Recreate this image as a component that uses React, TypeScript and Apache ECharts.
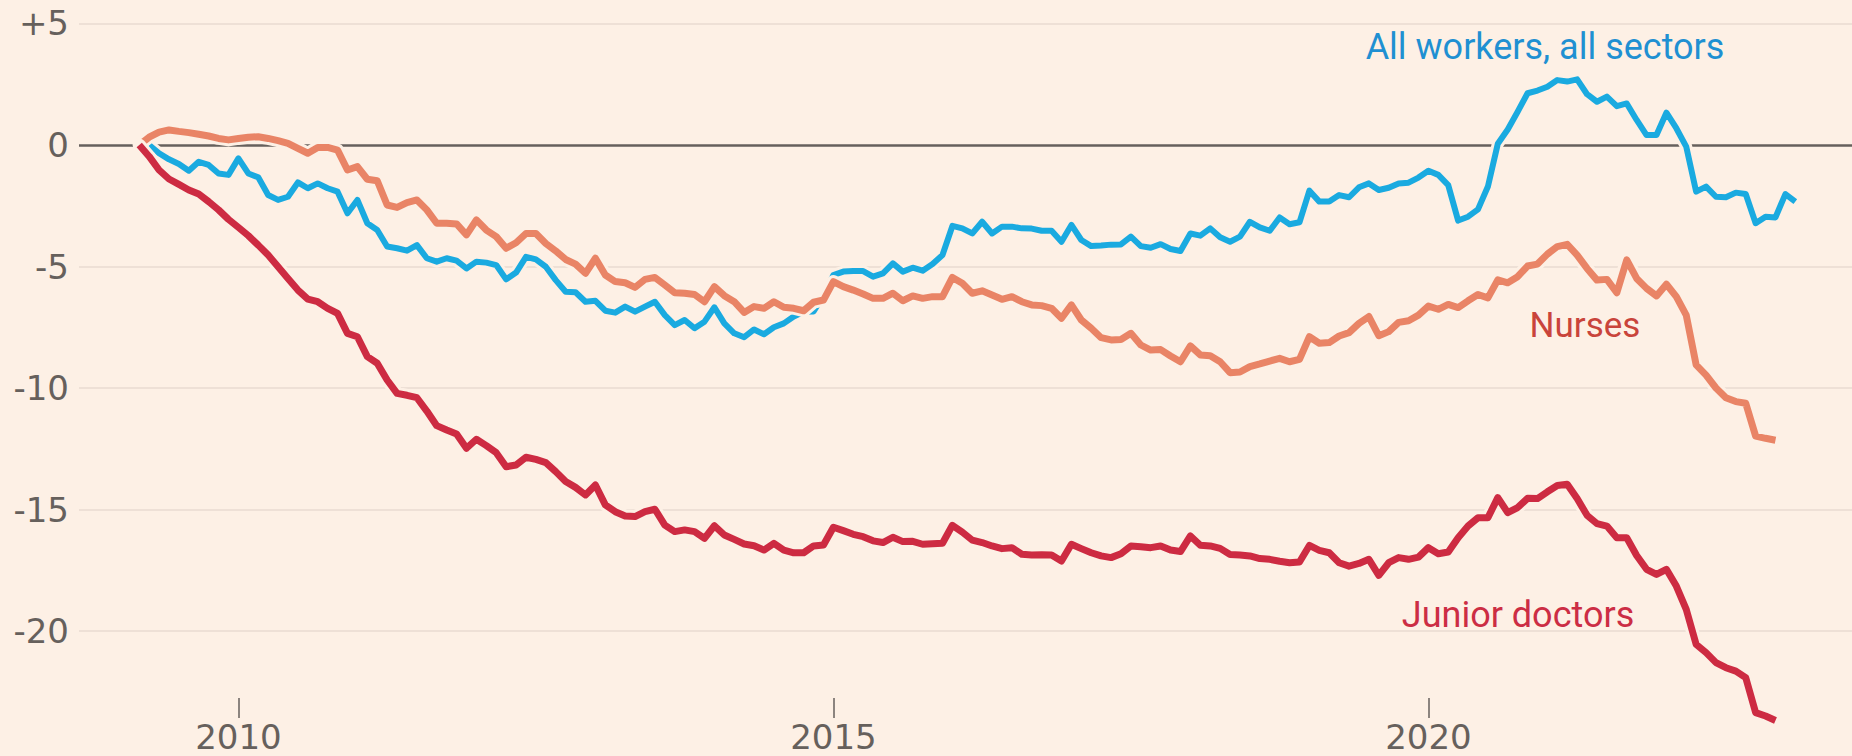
import React, { useEffect, useRef } from "react";
import * as echarts from "echarts";

// Monthly series, % change in real pay since the start of the series
const START_YEAR = 2009;
const DOCTORS_START_MONTH = 2; // March 2009 (0-based month)
const NURSES_START_MONTH = 2; // March 2009
const WORKERS_START_MONTH = 3; // April 2009

const juniorDoctors = [
  0, -0.47, -1.03, -1.4, -1.62, -1.85, -2.02, -2.33, -2.67, -3.06,
  -3.39, -3.73, -4.12, -4.53, -5.01, -5.49, -5.97, -6.34, -6.45, -6.72,
  -6.93, -7.75, -7.89, -8.71, -8.98, -9.67, -10.22, -10.3, -10.4, -10.95,
  -11.55, -11.73, -11.89, -12.48, -12.11, -12.37, -12.66, -13.24, -13.17, -12.85,
  -12.94, -13.07, -13.44, -13.85, -14.09, -14.4, -13.99, -14.81, -15.09, -15.27,
  -15.29, -15.09, -14.99, -15.64, -15.91, -15.84, -15.91, -16.19, -15.67, -16.05,
  -16.23, -16.42, -16.49, -16.67, -16.39, -16.67, -16.78, -16.78, -16.5, -16.46,
  -15.73, -15.87, -16.02, -16.12, -16.29, -16.36, -16.14, -16.32, -16.31, -16.43,
  -16.41, -16.39, -15.65, -15.93, -16.26, -16.36, -16.5, -16.61, -16.57, -16.84,
  -16.87, -16.86, -16.87, -17.12, -16.43, -16.61, -16.78, -16.91, -16.98, -16.82,
  -16.5, -16.53, -16.57, -16.5, -16.67, -16.73, -16.09, -16.47, -16.5, -16.6,
  -16.85, -16.87, -16.91, -17.02, -17.05, -17.13, -17.19, -17.16, -16.48, -16.68,
  -16.78, -17.19, -17.33, -17.22, -17.05, -17.71, -17.19, -16.98, -17.05, -16.96,
  -16.57, -16.82, -16.75, -16.16, -15.68, -15.34, -15.34, -14.51, -15.13, -14.92,
  -14.54, -14.55, -14.27, -14.01, -13.96, -14.55, -15.24, -15.58, -15.68, -16.16,
  -16.16, -16.89, -17.46, -17.67, -17.46, -18.15, -19.11, -20.55, -20.89, -21.3,
  -21.51, -21.65, -21.92, -23.36, -23.5, -23.68,
];

const nurses = [
  0, 0.32, 0.53, 0.62, 0.56, 0.51, 0.44, 0.37, 0.27, 0.21,
  0.27, 0.32, 0.34, 0.27, 0.18, 0.07, -0.14, -0.34, -0.1, -0.1,
  -0.21, -1.03, -0.89, -1.41, -1.47, -2.47, -2.57, -2.37, -2.26, -2.67,
  -3.22, -3.22, -3.25, -3.7, -3.08, -3.5, -3.77, -4.25, -4.02, -3.64,
  -3.64, -4.05, -4.36, -4.71, -4.9, -5.28, -4.66, -5.35, -5.62, -5.67,
  -5.86, -5.53, -5.45, -5.76, -6.08, -6.1, -6.15, -6.45, -5.83, -6.2,
  -6.45, -6.89, -6.65, -6.72, -6.45, -6.68, -6.72, -6.82, -6.47, -6.38,
  -5.62, -5.83, -5.97, -6.13, -6.31, -6.31, -6.1, -6.41, -6.21, -6.31,
  -6.24, -6.24, -5.45, -5.69, -6.1, -6.0, -6.17, -6.35, -6.24, -6.45,
  -6.58, -6.61, -6.72, -7.13, -6.58, -7.2, -7.54, -7.93, -8.02, -8.0,
  -7.75, -8.23, -8.44, -8.42, -8.68, -8.92, -8.27, -8.64, -8.67, -8.92,
  -9.37, -9.34, -9.12, -9.01, -8.89, -8.78, -8.92, -8.82, -7.89, -8.16,
  -8.13, -7.86, -7.72, -7.34, -7.06, -7.85, -7.68, -7.3, -7.23, -7.0,
  -6.63, -6.76, -6.56, -6.69, -6.41, -6.15, -6.29, -5.55, -5.67, -5.42,
  -4.98, -4.9, -4.49, -4.18, -4.09, -4.53, -5.08, -5.56, -5.53, -6.08,
  -4.73, -5.49, -5.9, -6.21, -5.73, -6.24, -7.0, -9.05, -9.47, -10.0,
  -10.4, -10.56, -10.63, -11.98, -12.07, -12.15,
];

const allWorkers = [
  0, -0.34, -0.59, -0.78, -1.06, -0.69, -0.82, -1.17, -1.23, -0.55,
  -1.17, -1.33, -2.06, -2.26, -2.13, -1.54, -1.78, -1.58, -1.78, -1.92,
  -2.81, -2.26, -3.22, -3.5, -4.18, -4.25, -4.35, -4.12, -4.66, -4.8,
  -4.66, -4.76, -5.08, -4.8, -4.84, -4.94, -5.53, -5.25, -4.6, -4.71,
  -5.01, -5.56, -6.04, -6.06, -6.45, -6.41, -6.82, -6.9, -6.65, -6.86,
  -6.65, -6.45, -7.0, -7.41, -7.2, -7.54, -7.27, -6.68, -7.34, -7.75,
  -7.91, -7.59, -7.79, -7.5, -7.34, -7.06, -6.86, -6.85, -6.2, -5.35,
  -5.21, -5.19, -5.19, -5.42, -5.28, -4.87, -5.21, -5.05, -5.17, -4.9,
  -4.53, -3.33, -3.43, -3.64, -3.16, -3.64, -3.36, -3.36, -3.43, -3.44,
  -3.53, -3.53, -3.98, -3.29, -3.91, -4.16, -4.14, -4.1, -4.09, -3.77,
  -4.16, -4.23, -4.08, -4.28, -4.36, -3.64, -3.73, -3.43, -3.8, -3.98,
  -3.77, -3.16, -3.39, -3.53, -2.98, -3.26, -3.18, -1.88, -2.33, -2.33,
  -2.06, -2.15, -1.74, -1.58, -1.85, -1.76, -1.58, -1.55, -1.34, -1.06,
  -1.23, -1.65, -3.11, -2.95, -2.65, -1.71, 0.05, 0.64, 1.37, 2.13,
  2.24, 2.4, 2.67, 2.61, 2.7, 2.09, 1.78, 1.99, 1.6, 1.71,
  1.03, 0.41, 0.41, 1.33, 0.69, -0.07, -1.92, -1.71, -2.13, -2.15,
  -1.96, -2.02, -3.22, -2.95, -2.98, -2.02, -2.33,
];

const xTickYears = [2010, 2015, 2020];
const yTickValues = [-20, -15, -10, -5, 0, 5];

const seriesLabels = {
  workers: "All workers, all sectors",
  nurses: "Nurses",
  doctors: "Junior doctors",
};

const BG = "#fdf0e5";
const GRID = "#e8dbd0";
const AXIS = "#66605c";
const BLUE = "#1aaae0";
const ORANGE = "#e98466";
const RED = "#cd2b42";

const toPoints = (vals: number[], startMonth: number) =>
  vals.map((v, i) => [START_YEAR + (startMonth + i) / 12, v]);

export default function App() {
  const ref = useRef<HTMLDivElement>(null);

  useEffect(() => {
    document.body.style.margin = "0";
    document.body.style.background = BG;
    if (!ref.current) return;
    const chart = echarts.init(ref.current, undefined, { renderer: "svg" });

    const lineSeries = (
      name: string,
      data: number[][],
      color: string,
      width: number,
      z: number
    ) => [
      {
        name: name + " halo",
        type: "line",
        data,
        symbol: "none",
        showSymbol: false,
        clip: false,
        silent: true,
        z,
        lineStyle: { color: BG, width: width + 6, cap: "round", join: "round" },
        emphasis: { disabled: true },
      },
      {
        name,
        type: "line",
        data,
        symbol: "none",
        showSymbol: false,
        clip: false,
        silent: true,
        z: z + 1,
        lineStyle: { color, width, cap: "butt", join: "round" },
        emphasis: { disabled: true },
      },
    ];

    const gridLines = yTickValues
      .filter((v) => v !== 0)
      .map((v) => ({ yAxis: v, lineStyle: { color: GRID, width: 1.6, type: "solid" } }));

    chart.setOption({
      animation: false,
      backgroundColor: BG,
      textStyle: { fontFamily: "Roboto" },
      grid: { left: 79, right: 0, top: 0, bottom: 38 },
      xAxis: {
        type: "value",
        min: 2008.6605,
        max: 2023.5597,
        axisLine: { show: false, onZero: false },
        splitLine: { show: false },
        axisTick: {
          show: true,
          inside: true,
          length: 20,
          customValues: xTickYears,
          lineStyle: { color: AXIS, width: 1.5 },
        },
        axisLabel: {
          customValues: xTickYears,
          fontSize: 34,
          lineHeight: 31,
          fontFamily: "DejaVu Sans",
          color: AXIS,
          margin: 3,
          formatter: (v: number) => String(v),
        },
      },
      yAxis: {
        type: "value",
        min: -23.58,
        max: 5.967,
        axisLine: { show: false, onZero: false },
        axisTick: { show: false, customValues: yTickValues },
        splitLine: { show: false },
        axisLabel: {
          customValues: yTickValues,
          fontSize: 34,
          fontFamily: "DejaVu Sans",
          color: AXIS,
          margin: 10,
          formatter: (v: number) => (v > 0 ? "+" + v : String(v)),
        },
      },
      series: [
        {
          name: "grid",
          type: "line",
          data: [],
          silent: true,
          z: 1,
          markLine: {
            silent: true,
            z: 1,
            symbol: ["none", "none"],
            label: { show: false },
            emphasis: { disabled: true },
            data: [
              ...gridLines,
              { yAxis: 0, lineStyle: { color: AXIS, width: 2.6, type: "solid" } },
            ],
          },
        },
        ...lineSeries(seriesLabels.workers, toPoints(allWorkers, WORKERS_START_MONTH), BLUE, 6, 2),
        ...lineSeries(seriesLabels.nurses, toPoints(nurses, NURSES_START_MONTH), ORANGE, 7, 4),
        ...lineSeries(seriesLabels.doctors, toPoints(juniorDoctors, DOCTORS_START_MONTH), RED, 7, 6),
      ],
      graphic: [
        {
          type: "text",
          x: 1545,
          y: 47,
          z: 100,
          style: {
            text: seriesLabels.workers,
            fill: "#1f90d2",
            font: "36px Roboto",
            align: "center",
            verticalAlign: "middle",
            textAlign: "center",
            textVerticalAlign: "middle",
          },
        },
        {
          type: "text",
          x: 1585,
          y: 325,
          z: 100,
          style: {
            text: seriesLabels.nurses,
            fill: "#c9443b",
            font: "35px Roboto",
            align: "center",
            verticalAlign: "middle",
            textAlign: "center",
            textVerticalAlign: "middle",
          },
        },
        {
          type: "text",
          x: 1518,
          y: 615,
          z: 100,
          style: {
            text: seriesLabels.doctors,
            fill: "#cc2d44",
            font: "36px Roboto",
            align: "center",
            verticalAlign: "middle",
            textAlign: "center",
            textVerticalAlign: "middle",
            stroke: BG,
            lineWidth: 6,
          },
        },
      ],
    });

    return () => chart.dispose();
  }, []);

  return <div ref={ref} style={{ width: 1852, height: 756 }} />;
}
